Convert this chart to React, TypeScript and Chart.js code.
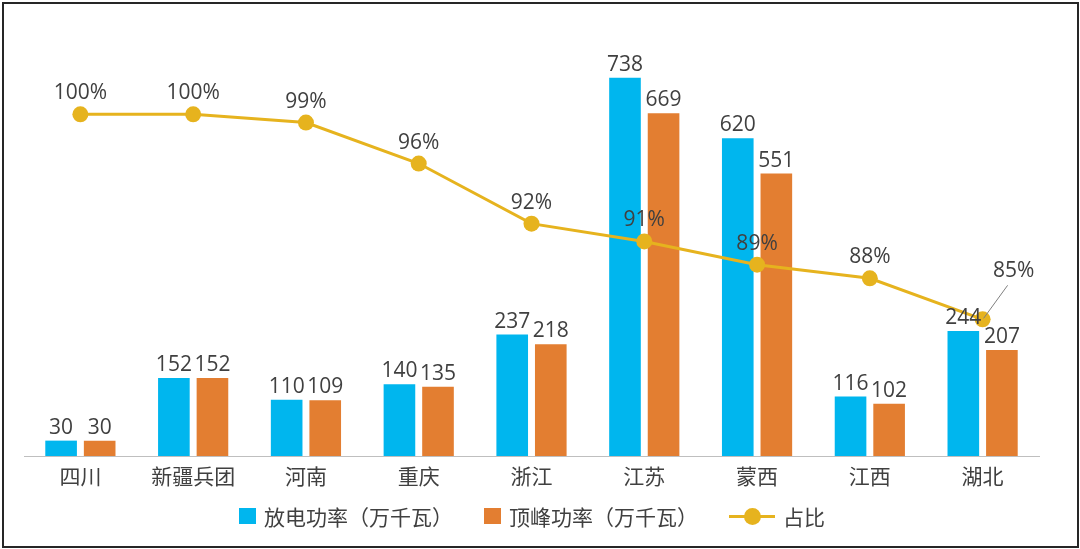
import { useEffect, useRef } from 'react'
import Chart from 'chart.js/auto'

// 图表数据
const REGIONS = ['四川', '新疆兵团', '河南', '重庆', '浙江', '江苏', '蒙西', '江西', '湖北']
const DISCHARGE = [30, 152, 110, 140, 237, 738, 620, 116, 244] // 放电功率（万千瓦）
const PEAK = [30, 152, 109, 135, 218, 669, 551, 102, 207] // 顶峰功率（万千瓦）
const SHARE = [100, 100, 99.4, 96.4, 92, 90.7, 89, 88, 85] // 占比 %

const CYAN = '#00b6ee'
const ORANGE = '#e37e31'
const GOLD = '#e6b31e'
const TEXT = '#404040'
const AXIS = '#bfbfbf'
const NUM_FONT = '"Open Sans", "Noto Sans CJK SC", sans-serif'
const CJK_FONT = '"Noto Sans CJK SC", "Open Sans", sans-serif'
const CALLOUT = 8 // 最后一个占比标签引出到右上方

// 柱顶数值 + 折线百分比标签
const labelPlugin = {
  id: 'valueLabels',
  afterDatasetsDraw(chart: Chart) {
    const ctx = chart.ctx
    ctx.save()
    ctx.font = `21px ${NUM_FONT}`
    ctx.fillStyle = TEXT
    ctx.textAlign = 'center'
    ctx.textBaseline = 'alphabetic'
    chart.data.datasets.forEach((ds, i) => {
      const meta = chart.getDatasetMeta(i)
      meta.data.forEach((el, j) => {
        const v = ds.data[j] as number
        if (meta.type === 'bar') {
          ctx.fillText(String(v), el.x, el.y - 7)
          return
        }
        const txt = `${Math.round(v)}%`
        if (j === CALLOUT) {
          ctx.strokeStyle = '#7f7f7f'
          ctx.lineWidth = 1
          ctx.beginPath()
          ctx.moveTo(el.x + 1, el.y - 1)
          ctx.lineTo(el.x + 25, el.y - 34)
          ctx.stroke()
          ctx.fillText(txt, el.x + 31, el.y - 42)
        } else {
          ctx.fillText(txt, el.x, el.y - 15)
        }
      })
    })
    ctx.restore()
  },
}

export default function App() {
  const canvasRef = useRef<HTMLCanvasElement>(null)

  useEffect(() => {
    const canvas = canvasRef.current
    if (!canvas) return
    const chart = new Chart(canvas, {
      type: 'bar',
      data: {
        labels: REGIONS,
        datasets: [
          {
            type: 'line',
            label: '占比',
            data: SHARE,
            yAxisID: 'y2',
            borderColor: GOLD,
            backgroundColor: GOLD,
            borderWidth: 3,
            pointRadius: 8,
            pointBackgroundColor: GOLD,
            pointBorderWidth: 0,
            tension: 0,
            order: 0,
          },
          {
            label: '放电功率（万千瓦）',
            data: DISCHARGE,
            backgroundColor: CYAN,
            barPercentage: 0.82,
            categoryPercentage: 0.684,
            order: 1,
          },
          {
            label: '顶峰功率（万千瓦）',
            data: PEAK,
            backgroundColor: ORANGE,
            barPercentage: 0.82,
            categoryPercentage: 0.684,
            order: 1,
          },
        ],
      },
      options: {
        responsive: false,
        animation: false,
        layout: { padding: { left: 24, right: 41, top: 46, bottom: 53 } },
        plugins: { legend: { display: false }, tooltip: { enabled: false } },
        scales: {
          x: {
            grid: { display: false, drawTicks: false },
            border: { color: AXIS, width: 1 },
            ticks: { color: TEXT, font: { family: CJK_FONT, size: 21 }, padding: 7 },
            afterFit: (s: { height: number }) => {
              s.height = 40
            },
          },
          y: { display: false, min: 0, max: 800 },
          y2: { display: false, position: 'right', min: 75, max: 105 },
        },
      },
      plugins: [labelPlugin],
    } as any)
    return () => chart.destroy()
  }, [])

  const legendText: React.CSSProperties = {
    position: 'absolute',
    top: 503,
    fontFamily: CJK_FONT,
    fontSize: 21,
    lineHeight: '26px',
    color: TEXT,
    whiteSpace: 'nowrap',
  }
  const square = (left: number, color: string): React.CSSProperties => ({
    position: 'absolute',
    left,
    top: 508,
    width: 17,
    height: 16,
    background: color,
  })

  return (
    <div style={{ position: 'absolute', left: 0, top: 0, width: 1080, height: 549, background: '#fff', overflow: 'hidden' }}>
      <canvas ref={canvasRef} width={1080} height={549} style={{ position: 'absolute', left: 0, top: 0 }} />
      <div style={square(239, CYAN)} />
      <div style={{ ...legendText, left: 264 }}>放电功率（万千瓦）</div>
      <div style={square(484, ORANGE)} />
      <div style={{ ...legendText, left: 509 }}>顶峰功率（万千瓦）</div>
      <div style={{ position: 'absolute', left: 729, top: 515, width: 46, height: 3, background: GOLD }} />
      <div style={{ position: 'absolute', left: 744, top: 508, width: 17, height: 17, borderRadius: '50%', background: GOLD }} />
      <div style={{ ...legendText, left: 783 }}>占比</div>
      <div
        style={{
          position: 'absolute',
          left: 2,
          top: 2,
          width: 1077,
          height: 546,
          boxSizing: 'border-box',
          border: '2px solid #262626',
          pointerEvents: 'none',
        }}
      />
    </div>
  )
}
